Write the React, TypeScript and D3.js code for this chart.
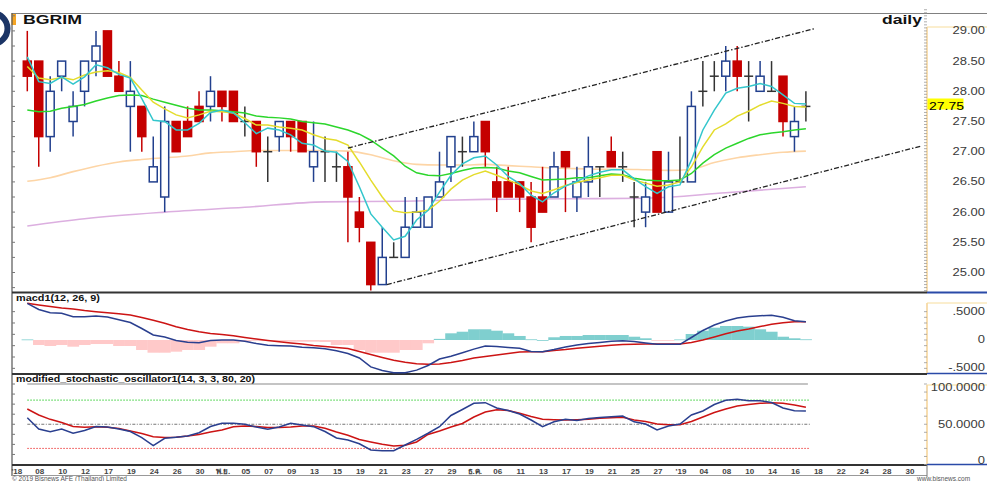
import React from "react";
import * as d3 from "d3";

const W = 987;
const H = 481;

// x-axis tick labels (every second trading day, first one is the day before the first candle)
const axisLabels = ["'18","08","10","12","17","19","24","26","30","พ.ย.","05","07","09","13","15","19","21","23","27","29","ธ.ค.","06","11","13","17","19","21","25","27","'19","04","08","10","14","16","18","22","24","28","30"];

// Daily OHLC, BGRIM, 5 Oct 2018 - 17 Jan 2019
const opens = [28.5,28.5,27.25,28.25,27.5,28.0,28.5,29.0,28.25,27.75,27.75,26.5,26.25,27.5,27.5,27.75,27.75,28.0,28.0,27.5,27.5,27.0,27.25,27.5,27.5,26.75,27.0,26.75,26.75,26.0,25.5,24.8,25.25,25.25,25.75,25.75,26.25,26.75,27.0,27.0,27.5,26.5,26.5,26.5,26.25,26.25,26.25,27.0,26.25,26.5,26.75,27.0,26.75,26.25,26.0,27.0,26.0,26.5,26.5,28.0,28.25,28.25,28.5,28.25,28.0,28.0,28.25,27.25,27.75];
const highs = [29.0,28.5,28.25,28.5,28.0,28.5,29.0,29.0,28.5,28.5,27.75,27.25,27.75,27.5,27.75,28.0,28.25,28.0,28.0,27.75,27.5,27.25,27.5,27.5,27.5,27.5,27.25,27.0,27.0,26.25,25.5,25.75,25.5,26.25,26.25,26.25,27.0,27.25,27.25,27.5,27.5,26.75,26.75,26.5,26.5,26.75,27.0,27.0,26.75,27.25,26.75,27.25,27.0,26.5,26.5,27.0,27.0,27.25,28.0,28.5,28.5,28.75,28.75,28.5,28.5,28.5,28.25,27.75,28.0];
const lows = [28.0,26.75,27.0,28.0,27.25,27.75,28.25,28.25,28.0,27.0,27.0,26.5,26.0,27.0,27.25,27.5,27.5,27.5,27.5,27.25,26.75,26.5,27.0,27.0,27.0,26.5,26.5,26.5,25.5,25.5,24.7,24.8,25.25,25.25,25.75,25.75,26.25,26.5,26.75,27.0,26.75,26.0,26.25,26.0,25.5,26.0,26.25,26.0,26.0,26.25,26.25,26.75,26.5,25.75,25.75,26.0,26.0,26.5,26.5,27.75,28.0,28.0,28.0,27.5,28.0,28.0,27.25,27.0,27.5];
const closes = [28.25,27.25,28.0,28.5,27.75,28.5,28.75,28.25,28.0,28.0,27.25,26.75,27.5,27.0,27.25,27.5,28.0,27.75,27.5,27.5,27.0,27.0,27.5,27.25,27.0,27.0,27.0,26.75,26.25,25.75,24.8,25.25,25.25,25.75,26.0,26.25,26.5,27.25,27.0,27.25,27.0,26.25,26.25,26.25,25.75,26.0,26.75,26.75,26.5,26.75,26.75,26.75,26.75,26.25,26.25,26.0,26.5,26.5,27.75,28.0,28.25,28.5,28.25,28.25,28.25,28.0,27.5,27.5,27.75];

// Moving averages (read per candle)
const maCyan = [28.57,28.16,28.13,28.24,28.12,28.24,28.44,28.39,28.28,28.22,27.88,27.52,27.50,27.36,27.36,27.47,27.65,27.69,27.64,27.48,27.30,27.39,27.36,27.28,27.14,27.11,27.01,26.99,26.84,26.42,25.97,25.75,25.54,25.60,25.87,26.03,26.33,26.61,26.80,26.90,26.93,26.78,26.59,26.47,26.28,26.17,26.32,26.43,26.51,26.60,26.66,26.70,26.70,26.55,26.42,26.31,26.42,26.45,26.86,27.36,27.69,27.97,28.05,28.08,28.13,28.08,27.94,27.80,27.79];
const maYellow = [28.41,28.22,28.19,28.23,28.19,28.27,28.32,28.34,28.31,28.23,28.02,27.82,27.71,27.61,27.56,27.61,27.67,27.66,27.64,27.55,27.44,27.44,27.41,27.39,27.36,27.28,27.22,27.19,27.11,26.83,26.53,26.25,26.02,25.99,26.00,26.03,26.18,26.38,26.53,26.62,26.68,26.61,26.53,26.45,26.35,26.31,26.37,26.44,26.49,26.53,26.57,26.61,26.61,26.53,26.48,26.43,26.45,26.50,26.75,27.08,27.36,27.46,27.59,27.67,27.77,27.84,27.80,27.75,27.74];
const maGreen = [27.69,27.66,27.67,27.72,27.75,27.78,27.84,27.89,27.93,27.94,27.93,27.87,27.82,27.77,27.72,27.69,27.69,27.68,27.66,27.64,27.59,27.57,27.56,27.54,27.50,27.48,27.46,27.41,27.36,27.29,27.19,27.06,26.93,26.76,26.65,26.61,26.60,26.64,26.69,26.73,26.74,26.73,26.68,26.65,26.59,26.53,26.54,26.55,26.57,26.57,26.60,26.63,26.62,26.56,26.53,26.52,26.52,26.53,26.64,26.81,26.95,27.06,27.14,27.22,27.28,27.31,27.33,27.36,27.38];
// slow averages, read at [day index, value]
const maPeach: [number, number][] = [[0,26.51],[2,26.57],[4,26.67],[6,26.76],[8,26.83],[10,26.87],[12,26.90],[14,26.93],[16,26.98],[18,27.00],[20,27.02],[22,27.02],[24,27.02],[26,27.02],[28,27.01],[30,26.95],[32,26.85],[34,26.79],[36,26.78],[38,26.78],[40,26.79],[42,26.77],[44,26.75],[46,26.73],[48,26.72],[50,26.71],[52,26.71],[54,26.70],[56,26.69],[58,26.71],[60,26.82],[62,26.90],[64,26.95],[66,26.99],[68,27.01]];
const maPurple: [number, number][] = [[0,25.77],[5,25.89],[12,26.00],[19,26.08],[26,26.17],[33,26.18],[40,26.21],[47,26.22],[54,26.23],[61,26.32],[68,26.42]];

// channel lines [day index, price]
const channelUpper: [number, number][] = [[28, 27.06], [68.8, 29.04]];
const channelLower: [number, number][] = [[31.4, 24.8], [78, 27.09]];

// MACD(12,26,9)
const macdLine = [0.647,0.538,0.482,0.472,0.411,0.411,0.423,0.406,0.358,0.309,0.203,0.088,0.053,-0.009,-0.041,-0.048,-0.009,0,0,-0.023,-0.062,-0.092,-0.101,-0.106,-0.127,-0.138,-0.155,-0.190,-0.238,-0.317,-0.474,-0.538,-0.577,-0.577,-0.531,-0.450,-0.335,-0.288,-0.226,-0.161,-0.106,-0.115,-0.132,-0.146,-0.203,-0.206,-0.168,-0.123,-0.088,-0.062,-0.044,-0.023,-0.014,-0.026,-0.053,-0.076,-0.076,-0.076,0.044,0.168,0.265,0.335,0.388,0.413,0.427,0.437,0.402,0.339,0.323];
const signalLine = [0.647,0.617,0.591,0.564,0.547,0.520,0.499,0.481,0.464,0.441,0.397,0.347,0.294,0.235,0.185,0.146,0.115,0.097,0.074,0.044,0.018,-0.009,-0.032,-0.053,-0.071,-0.097,-0.115,-0.132,-0.150,-0.203,-0.256,-0.309,-0.358,-0.393,-0.418,-0.427,-0.423,-0.397,-0.362,-0.317,-0.291,-0.265,-0.238,-0.212,-0.206,-0.206,-0.185,-0.168,-0.146,-0.129,-0.109,-0.093,-0.079,-0.074,-0.071,-0.071,-0.071,-0.071,-0.044,0,0.053,0.109,0.159,0.194,0.238,0.276,0.305,0.321,0.323];
const macdHist = [0.01,-0.088,-0.106,-0.088,-0.118,-0.088,-0.071,-0.071,-0.106,-0.106,-0.176,-0.224,-0.224,-0.206,-0.176,-0.176,-0.118,-0.058,-0.058,-0.030,-0.012,-0.018,-0.030,-0.030,-0.030,-0.030,-0.035,-0.088,-0.088,-0.176,-0.224,-0.224,-0.224,-0.176,-0.176,-0.058,0.02,0.118,0.146,0.189,0.189,0.164,0.118,0.071,0.012,0,0.048,0.071,0.071,0.088,0.088,0.088,0.088,0.058,0.030,-0.012,-0.005,0.01,0.106,0.164,0.217,0.247,0.247,0.235,0.189,0.146,0.058,0.030,0.012];

// Modified stochastic (14,3,3,80,20)
const stochK = [58.1,44.1,40.7,44.1,38.8,42.2,47.2,46.6,44.1,41.0,33.5,23.4,32.5,33.8,35.4,39.5,47.2,51.2,51.2,49.9,46.6,43.7,46.6,51.2,49.1,47.0,41.0,32.9,30.4,25.8,18.0,17.1,17.1,24.2,31.3,38.8,47.0,60.9,68.3,76.0,76.8,70.2,67.1,62.7,55.3,47.0,53.0,56.1,54.7,57.1,58.4,59.3,60.2,53.0,50.3,42.9,47.8,50.3,61.5,66.5,74.5,79.8,81.0,79.1,79.3,77.0,70.2,66.8,66.5];
const stochD = [68.9,61.5,56.1,52.2,47.2,46.3,46.8,46.3,44.7,41.6,38.5,34.5,33.5,33.9,35.4,37.3,40.4,42.9,47.0,47.7,47.2,46.0,46.0,46.6,47.8,47.8,45.1,40.4,36.4,31.1,28.0,25.1,23.0,23.9,28.0,37.3,41.6,46.6,50.9,59.0,65.2,68.1,67.1,63.6,59.6,56.1,55.7,55.3,55.7,56.1,57.4,58.1,58.6,55.3,53.4,50.3,49.4,49.3,53.4,59.0,64.6,68.9,72.7,74.5,76.0,76.6,76.1,73.9,71.1];

const priceTicks = [25, 25.5, 26, 26.5, 27, 27.5, 28, 28.5, 29];
const macdTicks = [0.5, 0, -0.5];
const macdTickText = [".5000", "0", "-.5000"];
const stochTicks = [100, 50, 0];
const stochTickText = ["100.0000", "50.0000", "0"];
const lastPrice = 27.75;

const FONT = "'Liberation Sans', Arial, 'DejaVu Sans', sans-serif";
const SX = 1.3;

const LEFT = 12;
const RIGHT = 927;
const LABEL_END = 985;

const x = d3.scaleLinear().domain([0, 68]).range([27.3, 805.9]);
const step = x(1) - x(0);
const yP = d3.scaleLinear().domain([25, 29]).range([272.5, 30.9]);
const yM = d3.scaleLinear().domain([-0.5, 0.5]).range([368.35, 311.65]);
const yS = d3.scaleLinear().domain([0, 100]).range([464.5, 384]);

const COL = {
  up: "#22408e",
  down: "#c50000",
  doji: "#333333",
  cyan: "#33c6cc",
  yellow: "#e4dc2c",
  green: "#2cd62c",
  peach: "#fdd5a6",
  purple: "#dcafe0",
  navy: "#2a3f8f",
  red: "#cc1414",
  pink: "#ffc9c9",
  teal: "#7fcfcf",
};

function ST(props: { x: number; y: number; anchor?: string; size?: number; fill?: string; weight?: string; children: React.ReactNode; sx?: number }) {
  const { x: tx, y: ty, anchor = "start", size = 10, fill = "#3a3a3a", weight = "normal", sx = SX } = props;
  return (
    <text
      transform={`translate(${tx},${ty}) scale(${sx},1)`}
      textAnchor={anchor}
      dominantBaseline="central"
      fontFamily={FONT}
      fontSize={size}
      fill={fill}
      fontWeight={weight}
    >
      {props.children}
    </text>
  );
}

export default function App() {
  const lineIdx = (ys: number[], sc: d3.ScaleLinear<number, number>) =>
    d3.line<number>().x((_, i) => x(i)).y((v) => sc(v))(ys) || "";
  const linePts = (pts: [number, number][], sc: d3.ScaleLinear<number, number>) =>
    d3.line<[number, number]>().x((d) => x(d[0])).y((d) => sc(d[1])).curve(d3.curveMonotoneX)(pts) || "";

  const bw = 8;

  const candles = opens.map((o, i) => {
    const c = closes[i];
    const h = highs[i];
    const l = lows[i];
    const cx = x(i);
    if (c === o) {
      return (
        <g key={i} stroke={COL.doji} strokeWidth={1.5}>
          <line x1={cx} x2={cx} y1={yP(h)} y2={yP(l)} />
          <line x1={cx - bw / 2 - 0.5} x2={cx + bw / 2 + 0.5} y1={yP(c)} y2={yP(c)} />
        </g>
      );
    }
    const up = c > o;
    const col = up ? COL.up : COL.down;
    const top = yP(Math.max(o, c));
    const bot = yP(Math.min(o, c));
    return (
      <g key={i}>
        <line x1={cx} x2={cx} y1={yP(h)} y2={yP(l)} stroke={col} strokeWidth={1.5} />
        <rect
          x={cx - bw / 2}
          y={top}
          width={bw}
          height={Math.max(1, bot - top)}
          fill={up ? "#ffffff" : col}
          stroke={col}
          strokeWidth={1.5}
        />
      </g>
    );
  });

  const priceMinor = d3.range(24.7, 29.35, 0.05);
  const leftPriceTicks = d3.range(24.75, 29.3, 0.25);

  return (
    <svg
      width={W}
      height={H}
      viewBox={`0 0 ${W} ${H}`}
      style={{ position: "absolute", left: 0, top: 0, background: "#fff" }}
    >
      <rect x={0} y={0} width={W} height={H} fill="#ffffff" />

      {/* logo fragment */}
      <circle cx={-8} cy={28.5} r={15.5} fill="none" stroke="#1c3566" strokeWidth={6} />
      <rect x={11.5} y={13} width={4.5} height={12} fill="#f5a524" />

      {/* frame */}
      <line x1={LEFT} x2={W} y1={13.5} y2={13.5} stroke="#808080" strokeWidth={1} />
      <line x1={LEFT} x2={LEFT} y1={13} y2={476} stroke="#555" strokeWidth={1.2} />

      <defs>
        <clipPath id="pclip">
          <rect x={LEFT} y={14} width={RIGHT - LEFT} height={278} />
        </clipPath>
      </defs>

      {/* left minor ticks */}
      {leftPriceTicks.map((v, i) => (
        <line key={"lt" + i} x1={LEFT} x2={LEFT + 3} y1={yP(v)} y2={yP(v)} stroke="#777" strokeWidth={1} />
      ))}
      {d3.range(-0.5, 0.61, 0.2).map((v, i) => (
        <line key={"lm" + i} x1={LEFT} x2={LEFT + 3} y1={yM(v)} y2={yM(v)} stroke="#777" strokeWidth={1} />
      ))}
      {d3.range(0, 101, 12.5).map((v, i) => (
        <line key={"ls" + i} x1={LEFT} x2={LEFT + 3} y1={yS(v)} y2={yS(v)} stroke="#777" strokeWidth={1} />
      ))}

      <g clipPath="url(#pclip)">
        <path d={linePts(maPurple, yP)} fill="none" stroke={COL.purple} strokeWidth={1.6} />
        <path d={linePts(maPeach, yP)} fill="none" stroke={COL.peach} strokeWidth={1.6} />
        {candles}
        <path d={lineIdx(maGreen, yP)} fill="none" stroke={COL.green} strokeWidth={1.5} />
        <path d={lineIdx(maYellow, yP)} fill="none" stroke={COL.yellow} strokeWidth={1.5} />
        <path d={lineIdx(maCyan, yP)} fill="none" stroke={COL.cyan} strokeWidth={1.5} />
        {[channelUpper, channelLower].map((pts, k) => (
          <line
            key={"ch" + k}
            x1={x(pts[0][0])}
            y1={yP(pts[0][1])}
            x2={x(pts[1][0])}
            y2={yP(pts[1][1])}
            stroke="#222"
            strokeWidth={1.3}
            strokeDasharray="5,2,1.5,2"
          />
        ))}
      </g>

      {/* titles */}
      <text x={23} y={24} fontFamily={FONT} fontWeight="bold" fontSize={12.5} fill="#111" textLength={59} lengthAdjust="spacingAndGlyphs">BGRIM</text>
      <text x={882} y={24} fontFamily={FONT} fontWeight="bold" fontSize={13} fill="#111" textLength={40} lengthAdjust="spacingAndGlyphs">daily</text>

      {/* price right axis */}
      <line x1={RIGHT} x2={RIGHT} y1={27} y2={292} stroke="#f2c77a" strokeWidth={1.2} />
      <line x1={RIGHT} x2={W} y1={27} y2={27} stroke="#f7dd9c" strokeWidth={1} />
      {priceMinor.map((v, i) => (
        <line key={"pm" + i} x1={RIGHT - 3} x2={RIGHT} y1={yP(v)} y2={yP(v)} stroke="#999" strokeWidth={0.8} />
      ))}
      {priceTicks.map((v) => (
        <ST key={"pt" + v} x={LABEL_END} y={yP(v)} anchor="end" size={10}>
          {v.toFixed(2)}
        </ST>
      ))}
      <rect x={927.5} y={98.5} width={36} height={11} fill="#ffff00" />
      <ST x={929} y={yP(lastPrice)} size={10} fill="#000" sx={1.4}>
        {lastPrice.toFixed(2)}
      </ST>

      {/* panel separators */}
      <line x1={LEFT} x2={RIGHT} y1={292.5} y2={292.5} stroke="#333" strokeWidth={2} />
      <line x1={RIGHT} x2={W} y1={292.5} y2={292.5} stroke="#2a4aa8" strokeWidth={2} />
      <line x1={LEFT} x2={RIGHT} y1={374} y2={374} stroke="#333" strokeWidth={2} />
      <line x1={RIGHT} x2={W} y1={373.5} y2={373.5} stroke="#2a4aa8" strokeWidth={1.5} />
      <line x1={LEFT} x2={RIGHT} y1={465} y2={465} stroke="#333" strokeWidth={2} />
      <line x1={RIGHT} x2={W} y1={464.5} y2={464.5} stroke="#2a4aa8" strokeWidth={1.5} />
      <line x1={LEFT} x2={RIGHT} y1={475.5} y2={475.5} stroke="#999" strokeWidth={1} />
      <line x1={RIGHT} x2={RIGHT} y1={465} y2={477} stroke="#777" strokeWidth={1} />

      {/* MACD panel */}
      <text x={16} y={301} fontFamily={FONT} fontWeight="bold" fontSize={8.5} fill="#111" textLength={84} lengthAdjust="spacingAndGlyphs">macd1(12, 26, 9)</text>
      {macdHist.map((v, i) => {
        const y0 = yM(0);
        const y1 = yM(v);
        return (
          <rect
            key={"h" + i}
            x={x(i) - step / 2}
            y={Math.min(y0, y1)}
            width={step + 0.3}
            height={Math.max(0.8, Math.abs(y1 - y0))}
            fill={v >= 0 ? COL.teal : COL.pink}
          />
        );
      })}
      <path d={lineIdx(signalLine, yM)} fill="none" stroke={COL.red} strokeWidth={1.5} />
      <path d={lineIdx(macdLine, yM)} fill="none" stroke={COL.navy} strokeWidth={1.5} />
      <line x1={RIGHT} x2={RIGHT} y1={303} y2={373} stroke="#f2c77a" strokeWidth={1.2} />
      <line x1={RIGHT} x2={W} y1={303} y2={303} stroke="#f7dd9c" strokeWidth={1} />
      {d3.range(-0.5, 0.56, 0.1).map((v, i) => (
        <line key={"mm" + i} x1={RIGHT - 3} x2={RIGHT} y1={yM(v)} y2={yM(v)} stroke="#999" strokeWidth={0.8} />
      ))}
      {macdTicks.map((v, i) => (
        <ST key={"mt" + i} x={LABEL_END} y={v === -0.5 ? yM(v) - 1 : yM(v)} anchor="end" size={10}>
          {macdTickText[i]}
        </ST>
      ))}

      {/* Stochastic panel */}
      <text x={16} y={382} fontFamily={FONT} fontWeight="bold" fontSize={8.5} fill="#111" textLength={239} lengthAdjust="spacingAndGlyphs">modified_stochastic_oscillator1(14, 3, 3, 80, 20)</text>
      <line x1={x(0)} x2={x(68) + 2} y1={yS(100)} y2={yS(100)} stroke="#8a8a8a" strokeWidth={1.2} />
      <line x1={x(0)} x2={x(68) + 4} y1={yS(80)} y2={yS(80)} stroke="#33cc33" strokeWidth={1} strokeDasharray="1.5,1.5" />
      <line x1={x(0)} x2={x(68) + 4} y1={yS(50)} y2={yS(50)} stroke="#777" strokeWidth={1} strokeDasharray="3,1.5,1,1.5" />
      <line x1={x(0)} x2={x(68) + 4} y1={yS(20)} y2={yS(20)} stroke="#ee4444" strokeWidth={1} strokeDasharray="1.5,1.5" />
      <path d={lineIdx(stochD, yS)} fill="none" stroke={COL.red} strokeWidth={1.5} />
      <path d={lineIdx(stochK, yS)} fill="none" stroke={COL.navy} strokeWidth={1.5} />
      <line x1={RIGHT} x2={RIGHT} y1={385} y2={464} stroke="#f2c77a" strokeWidth={1.2} />
      <line x1={RIGHT} x2={W} y1={385} y2={385} stroke="#f7dd9c" strokeWidth={1} />
      {d3.range(0, 101, 10).map((v, i) => (
        <line key={"sm" + i} x1={RIGHT - 3} x2={RIGHT} y1={yS(v)} y2={yS(v)} stroke="#999" strokeWidth={0.8} />
      ))}
      {stochTicks.map((v, i) => (
        <ST key={"stt" + i} x={LABEL_END} y={v === 100 ? yS(v) + 4 : v === 0 ? yS(v) - 4 : yS(v)} anchor="end" size={10}>
          {stochTickText[i]}
        </ST>
      ))}

      {/* x axis labels */}
      {axisLabels.map((lab, k) => (
        <text
          key={"xl" + k}
          x={x(2 * k - 1) + 1}
          y={473.5}
          textAnchor="middle"
          fontFamily={FONT}
          fontWeight="bold"
          fontSize={8}
          fill="#444"
        >
          {lab}
        </text>
      ))}

      {/* footer */}
      <text x={12} y={480.5} fontFamily={FONT} fontSize={6.5} fill="#555">© 2019 Bisnews AFE (Thailand) Limited</text>
      <text x={917} y={480.5} fontFamily={FONT} fontSize={6.5} fill="#555">www.bisnews.com</text>
    </svg>
  );
}
